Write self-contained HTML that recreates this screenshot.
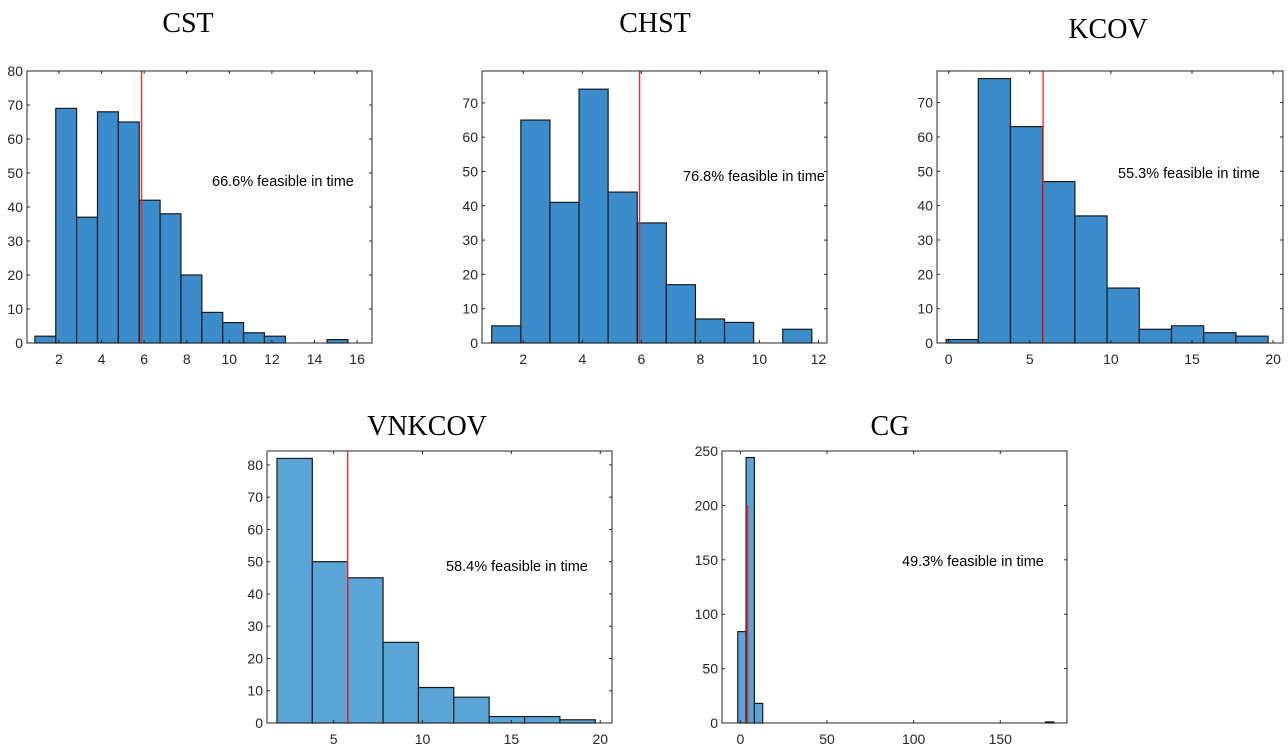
<!DOCTYPE html>
<html><head><meta charset="utf-8"><style>
html,body{margin:0;padding:0;background:#fff;}
svg{display:block;font-family:"Liberation Sans",sans-serif;}
</style></head><body>
<svg id="root" width="1288" height="753" viewBox="0 0 1288 753"></svg>
<script>
// ---- data ----
const cstCounts=[2,69,37,68,65,42,38,20,9,6,3,2,0,0,1];
const cstXTicks=[2,4,6,8,10,12,14,16];
const cstYTicks=[0,10,20,30,40,50,60,70,80];
const chstCounts=[5,65,41,74,44,35,17,7,6,0,4];
const chstXTicks=[2,4,6,8,10,12];
const chstYTicks=[0,10,20,30,40,50,60,70];
const kcovCounts=[1,77,63,47,37,16,4,5,3,2];
const kcovXTicks=[0,5,10,15,20];
const kcovYTicks=[0,10,20,30,40,50,60,70];
const vnkcovCounts=[82,50,45,25,11,8,2,2,1];
const vnkcovXTicks=[5,10,15,20];
const vnkcovYTicks=[0,10,20,30,40,50,60,70,80];
const cgCounts=[84,244,18,0,0,0,0,0,0,0,0,0,0,0,0,0,0,0,0,0,0,0,0,0,0,0,0,0,0,0,0,0,0,0,0,0,0,1];
const cgXTicks=[0,50,100,150];
const cgYTicks=[0,50,100,150,200,250];
const titles=["CST","CHST","KCOV","VNKCOV","CG"];
const notes=["66.6% feasible in time","76.8% feasible in time","55.3% feasible in time","58.4% feasible in time","49.3% feasible in time"];

const NS="http://www.w3.org/2000/svg";
const root=document.getElementById('root');
function el(t,a,p){const e=document.createElementNS(NS,t);for(const k in a)e.setAttribute(k,a[k]);(p||root).appendChild(e);return e;}

const panels=[
 {id:'cst',counts:cstCounts,xt:cstXTicks,yt:cstYTicks,box:[27,71,372,343],xd:[0.5,16.7],yd:[0,80],b0:0.87,bw:0.98,red:5.88,redTop:80,fill:'#3a8dca',title:[188,32],note:[212,186]},
 {id:'chst',counts:chstCounts,xt:chstXTicks,yt:chstYTicks,box:[482,71,827,343],xd:[0.6,12.29],yd:[0,79.3],b0:0.93,bw:0.986,red:5.94,redTop:79.3,fill:'#3a8dca',title:[655,32],note:[683,181]},
 {id:'kcov',counts:kcovCounts,xt:kcovXTicks,yt:kcovYTicks,box:[937,71,1283,343],xd:[-0.72,20.61],yd:[0,79.2],b0:-0.16,bw:1.985,red:5.82,redTop:79.2,fill:'#3a8dca',title:[1108,38],note:[1118,178]},
 {id:'vnkcov',counts:vnkcovCounts,xt:vnkcovXTicks,yt:vnkcovYTicks,box:[267,451,612,723],xd:[1.25,20.66],yd:[0,84.3],b0:1.81,bw:1.99,red:5.79,redTop:84.3,fill:'#5ba4d6',title:[427,435],note:[446,571]},
 {id:'cg',counts:cgCounts,xt:cgXTicks,yt:cgYTicks,box:[722,451,1067,723],xd:[-10.6,188.5],yd:[0,250],b0:-1.5,bw:4.8,red:4.2,redTop:200,fill:'#5ba4d6',title:[890,435],note:[902,566]}
];

panels.forEach((P,pi)=>{
  const [L,T,R,B]=P.box;
  const sx=v=>L+(v-P.xd[0])/(P.xd[1]-P.xd[0])*(R-L);
  const sy=v=>B-(v-P.yd[0])/(P.yd[1]-P.yd[0])*(B-T);
  const g=el('g',{});
  
  
  const tt=el('text',{x:P.title[0],y:P.title[1],'text-anchor':'middle','font-family':'"Liberation Serif",serif','font-size':28,fill:'#000'},g);
  tt.textContent=titles[pi];
  
  
  P.counts.forEach((c,i)=>{
    const x0=sx(P.b0+i*P.bw),x1=sx(P.b0+(i+1)*P.bw);
    const r=el('rect',{x:x0,y:sy(c),width:x1-x0,height:B-sy(c),fill:P.fill,stroke:'#1a1a1a','stroke-width':1.2},g);
    
    
  });
  const rl=el('line',{x1:sx(P.red),x2:sx(P.red),y1:B,y2:sy(P.redTop),stroke:'#ff2020','stroke-width':1.3},g);
  
  
  const fr=el('rect',{x:L,y:T,width:R-L,height:B-T,fill:'none',stroke:'#262626','stroke-width':1},g);
  
  
  P.xt.forEach(v=>{
    const x=sx(v);
    el('line',{x1:x,x2:x,y1:B,y2:B-3,stroke:'#262626'},g);
    el('line',{x1:x,x2:x,y1:T,y2:T+3,stroke:'#262626'},g);
    const t=el('text',{x:x,y:B+21,'text-anchor':'middle','font-size':14,fill:'#262626'},g);
    t.textContent=v;
    
    
  });
  P.yt.forEach(v=>{
    const y=sy(v);
    el('line',{x1:L,x2:L+3,y1:y,y2:y,stroke:'#262626'},g);
    el('line',{x1:R,x2:R-3,y1:y,y2:y,stroke:'#262626'},g);
    const t=el('text',{x:L-4,y:y+5,'text-anchor':'end','font-size':14,fill:'#262626'},g);
    t.textContent=v;
    
    
  });
  const n=el('text',{x:P.note[0],y:P.note[1],'font-size':14.5,fill:'#000'},g);
  n.textContent=notes[pi];
  
  
});
</script>
</body></html>
